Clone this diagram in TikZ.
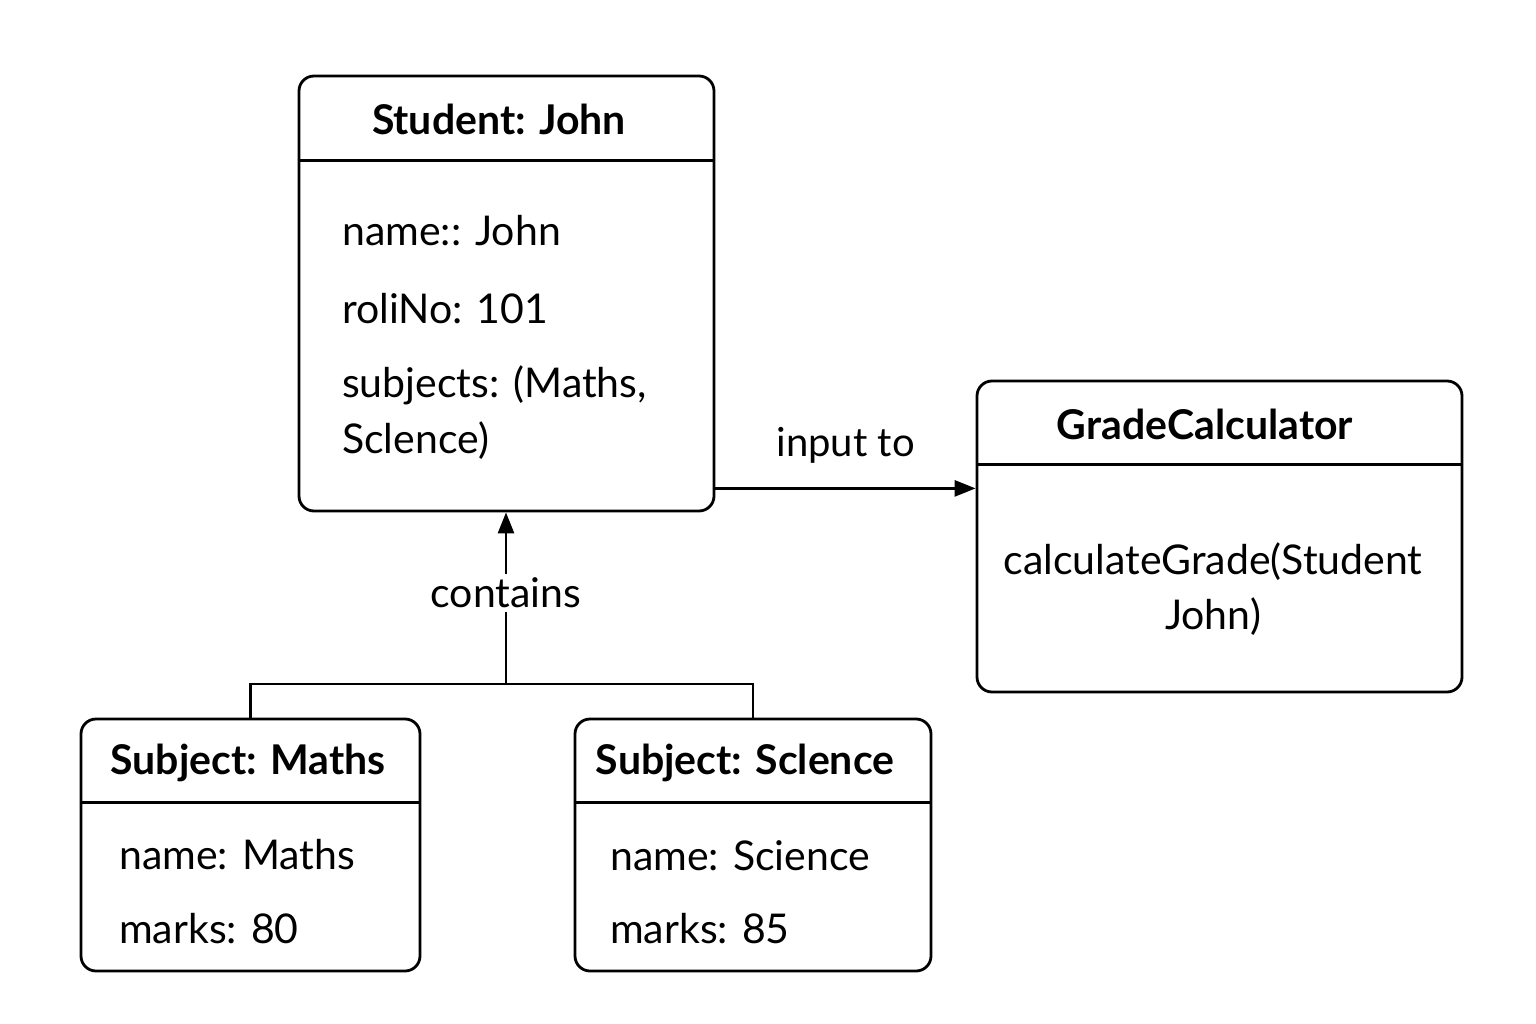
\documentclass[tikz,border=0pt]{standalone}
\usepackage{fontspec}
\setmainfont{Lato}
\usetikzlibrary{arrows.meta,positioning,calc}

\begin{document}
\begin{tikzpicture}[x=1pt, y=-1pt,
    objbox/.style={draw, line width=2.8pt, rounded corners=15pt, inner sep=0pt},
    title/.style={font=\fontsize{41}{48}\selectfont\bfseries, inner sep=0pt},
    attr/.style={font=\fontsize{41}{48}\selectfont, anchor=west, inner sep=0pt},
    link/.style={line width=2.8pt},
    arrow/.style={link, -{Triangle[length=21pt,width=16pt]}},
    tag/.style={font=\fontsize{41}{48}\selectfont, fill=white, inner sep=4pt}
]
\useasboundingbox (0,0) rectangle (1536,1024);
% student object
\node[objbox, minimum width=415pt, minimum height=435pt] (stu) at (506.5,293.5) {};
\draw[link] ([yshift=-86pt]stu.north west) -- ([yshift=-86pt]stu.north east);
\node[title] (stuT) at (499,119) {Student: John};
\node[attr] (stuA) at (342,231) {name:: John};
\node[attr] (stuB) at (342,309) {roliNo: 101};
\node[attr] (stuC) at (342,385) {subjects: (Maths,};
\node[attr] (stuD) at (342,441) {Sclence)};
% grade calculator
\node[objbox, minimum width=485pt, minimum height=311pt] (grade) at (1219.5,536.5) {};
\draw[link] ([yshift=-85pt]grade.north west) -- ([yshift=-85pt]grade.north east);
\node[title] (gradeT) at (1205,424) {GradeCalculator};
\node[font=\fontsize{41}{55}\selectfont, align=center, inner sep=0pt] (gradeA) at (1213,589) {calculateGrade(Student\\John)};
% subjects
\node[objbox, minimum width=339pt, minimum height=252pt] (maths) at (250.5,845) {};
\draw[link] ([yshift=-85pt]maths.north west) -- ([yshift=-85pt]maths.north east);
\node[title] (mathsT) at (248,763) {Subject: Maths};
\node[attr] (mathsA) at (119,855) {name: Maths};
\node[attr] (mathsB) at (119,929) {marks: 80};
\node[objbox, minimum width=356pt, minimum height=252pt] (sci) at (753,845) {};
\draw[link] ([yshift=-85pt]sci.north west) -- ([yshift=-85pt]sci.north east);
\node[title] (sciT) at (745,763) {Subject: Sclence};
\node[attr] (sciA) at (610,856) {name: Science};
\node[attr] (sciB) at (610,929) {marks: 85};
% connectors
\coordinate (join) at (506,684);
\draw[link] (maths.north) -- (maths.north |- join) -- (sci.north |- join) -- (sci.north);
\draw[arrow] (join) -- node[tag, pos=0.53] (cont) {contains} (join |- stu.south);
\draw[arrow] ([yshift=24pt]stu.south east) -- node[font=\fontsize{40}{46}\selectfont, above=24pt, inner sep=0pt] (inp) {input to} ([yshift=24pt]stu.south east -| grade.west);
\end{tikzpicture}
\end{document}
